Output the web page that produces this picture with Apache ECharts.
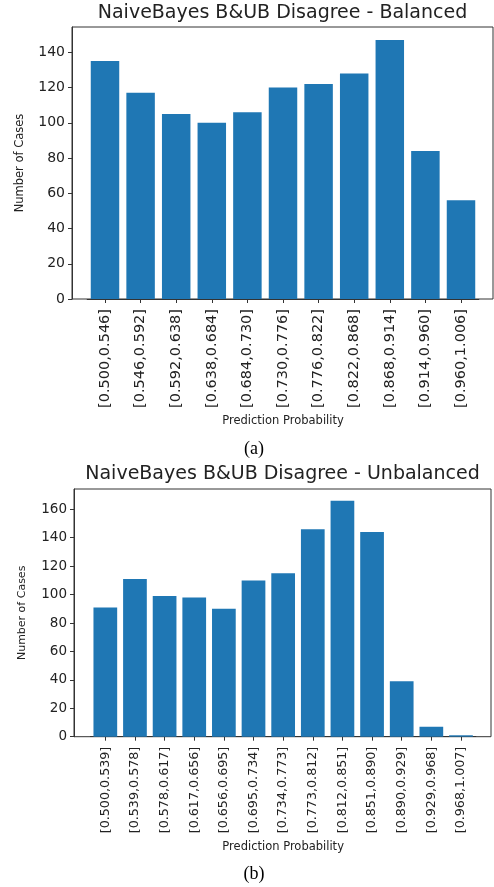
<!DOCTYPE html>
<html>
<head>
<meta charset="utf-8">
<script src="https://cdn.jsdelivr.net/npm/echarts@6/dist/echarts.min.js"></script>
<style>
html,body{margin:0;padding:0;background:#fff;}
#c{width:494px;height:887px;}
</style>
</head>
<body>
<div id="c"></div>
<script>
// ---- data ----
const catsA = ['[0.500,0.546]','[0.546,0.592]','[0.592,0.638]','[0.638,0.684]','[0.684,0.730]','[0.730,0.776]','[0.776,0.822]','[0.822,0.868]','[0.868,0.914]','[0.914,0.960]','[0.960,1.006]'];
const valsA = [135, 117, 105, 100, 106, 120, 122, 128, 147, 84, 56];
const yTicksA = [0, 20, 40, 60, 80, 100, 120, 140];

const catsB = ['[0.500,0.539]','[0.539,0.578]','[0.578,0.617]','[0.617,0.656]','[0.656,0.695]','[0.695,0.734]','[0.734,0.773]','[0.773,0.812]','[0.812,0.851]','[0.851,0.890]','[0.890,0.929]','[0.929,0.968]','[0.968,1.007]'];
const valsB = [91, 111, 99, 98, 90, 110, 115, 146, 166, 144, 39, 7, 1];
const yTicksB = [0, 20, 40, 60, 80, 100, 120, 140, 160];

const titleA = 'NaiveBayes B&UB Disagree - Balanced';
const titleB = 'NaiveBayes B&UB Disagree - Unbalanced';
const xName = 'Prediction Probability';
const yName = 'Number of Cases';

// ---- styling ----
const FONT = 'DejaVu Sans';
const TXT = '#222';
const LINE = '#333';
const BAR = '#1f77b4';
const maxA = Math.max(...valsA) * 1.05;
const maxB = Math.max(...valsB) * 1.05;

function frameY(max, ticks, fs, gap, idx) {
  return {
    gridIndex: idx, type: 'value', min: 0, max: max,
    axisLine: {show: true, lineStyle: {color: LINE, width: 1}},
    axisTick: {show: true, inside: false, length: 4, lineStyle: {color: LINE}, customValues: ticks},
    axisLabel: {show: true, margin: 7, color: TXT, fontFamily: FONT, fontSize: fs, customValues: ticks},
    splitLine: {show: false},
    name: yName, nameLocation: 'middle', nameGap: gap, nameRotate: 90,
    nameTextStyle: {color: TXT, fontFamily: FONT, fontSize: fs === 14 ? 11.5 : 11}
  };
}
function innerX(cats, fs, gap, nameGap, idx) {
  return {
    gridIndex: idx, type: 'category', data: cats, boundaryGap: true,
    axisLine: {show: true, lineStyle: {color: LINE}},
    axisTick: {show: true, alignWithLabel: true, length: 4, lineStyle: {color: LINE}},
    axisLabel: {show: true, rotate: 90, interval: 0, margin: gap, color: TXT, fontFamily: FONT, fontSize: fs},
    name: xName, nameLocation: 'middle', nameGap: nameGap,
    nameTextStyle: {color: TXT, fontFamily: FONT, fontSize: 11.5}
  };
}

const chart = echarts.init(document.getElementById('c'), null, {renderer: 'canvas'});
chart.setOption({
  animation: false,
  backgroundColor: '#fff',
  title: [
    {text: titleA, left: 282.5, top: 4, textAlign: 'center', padding: 0,
     textStyle: {color: TXT, fontFamily: FONT, fontSize: 19, fontWeight: 'normal'}},
    {text: titleB, left: 282.5, top: 465, textAlign: 'center', padding: 0,
     textStyle: {color: TXT, fontFamily: FONT, fontSize: 19, fontWeight: 'normal'}},
    {text: '(a)', left: 254, top: 440, textAlign: 'center', padding: 0,
     textStyle: {color: '#000', fontFamily: 'Liberation Serif', fontSize: 18, fontWeight: 'normal'}},
    {text: '(b)', left: 254, top: 865, textAlign: 'center', padding: 0,
     textStyle: {color: '#000', fontFamily: 'Liberation Serif', fontSize: 18, fontWeight: 'normal'}}
  ],
  grid: [
    // top frame, top inner
    {left: 72, top: 27, width: 421, height: 272, show: true, borderColor: LINE, borderWidth: 1, backgroundColor: 'transparent', containLabel: false},
    {left: 87.2, top: 27, width: 391.6, height: 272, containLabel: false},
    // bottom frame, bottom inner
    {left: 74, top: 489, width: 417, height: 247.7, show: true, borderColor: LINE, borderWidth: 1, backgroundColor: 'transparent', containLabel: false},
    {left: 90.5, top: 489, width: 385.3, height: 247.7, containLabel: false}
  ],
  xAxis: [
    {gridIndex: 0, type: 'value', show: false, min: 0, max: 1},
    innerX(catsA, 14.5, 10, 116, 1),
    {gridIndex: 2, type: 'value', show: false, min: 0, max: 1},
    innerX(catsB, 12.7, 10, 104, 3)
  ],
  yAxis: [
    frameY(maxA, yTicksA, 14, 46, 0),
    {gridIndex: 1, type: 'value', show: false, min: 0, max: maxA},
    frameY(maxB, yTicksB, 13.5, 46, 2),
    {gridIndex: 3, type: 'value', show: false, min: 0, max: maxB}
  ],
  series: [
    {type: 'bar', xAxisIndex: 1, yAxisIndex: 1, data: valsA, barCategoryGap: '20%',
     itemStyle: {color: BAR}, silent: true},
    {type: 'bar', xAxisIndex: 3, yAxisIndex: 3, data: valsB, barCategoryGap: '20%',
     itemStyle: {color: BAR}, silent: true}
  ]
});
</script>
</body>
</html>
